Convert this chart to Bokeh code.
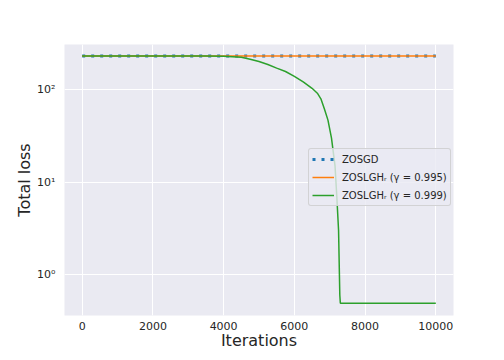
from bokeh.plotting import figure
from bokeh.embed import file_html
from bokeh.resources import INLINE
from bokeh.models import Range1d, FixedTicker, CustomJSTickFormatter, Legend, LegendItem

# ---- data ----
iters_flat = [0, 1000, 2000, 3000, 4000, 5000, 6000, 7000, 8000, 9000, 10000]
loss_zosgd = [233, 233, 233, 233, 233, 233, 233, 233, 233, 233, 233]
loss_995 = [233, 233, 233, 233, 233, 233, 233, 233, 233, 233, 233]

iters_999 = [0, 1000, 2000, 3000, 3500, 4000, 4250, 4500, 4750, 5000, 5250, 5500,
             5750, 6000, 6250, 6500, 6650, 6750, 6850, 6950, 7050, 7150, 7200,
             7250, 7285, 7300, 8000, 9000, 10000]
loss_999 = [233, 233, 233, 233, 232, 231, 229, 225, 215, 203, 188, 172,
            158, 140, 122, 104, 92, 80, 62, 47, 30, 15, 7,
            3, 0.6, 0.49, 0.49, 0.49, 0.49]

x_ticks = [0, 2000, 4000, 6000, 8000, 10000]
y_ticks = [1, 10, 100]

labels = ["ZOSGD", "ZOSLGHᵣ (γ = 0.995)", "ZOSLGHᵣ (γ = 0.999)"]
colors = ["#1f77b4", "#ff7f0e", "#2ca02c"]

FONT = "DejaVu Sans"
TXT = "#262626"

p = figure(width=496, height=352, output_backend="svg", toolbar_location=None,
           y_axis_type="log",
           x_range=Range1d(-500, 10500), y_range=Range1d(0.36, 310),
           min_border_left=64, min_border_top=44, min_border_right=43,
           min_border_bottom=37)

p.background_fill_color = "#EAEAF2"
p.border_fill_color = "white"
p.outline_line_color = None

r1 = p.line(iters_flat, loss_zosgd, line_color=colors[0], line_width=3, line_dash="3 6")
r2 = p.line(iters_flat, loss_995, line_color=colors[1], line_width=1.5)
r3 = p.line(iters_999, loss_999, line_color=colors[2], line_width=1.5)

p.xaxis.ticker = FixedTicker(ticks=x_ticks)
p.yaxis.ticker = FixedTicker(ticks=y_ticks)
p.yaxis.formatter = CustomJSTickFormatter(code="""
const e = Math.round(Math.log10(tick));
const sup = {"-2":"⁻²","-1":"⁻¹","0":"⁰","1":"¹","2":"²","3":"³"};
return "10" + sup[String(e)];
""")

for ax in [p.xaxis, p.yaxis]:
    ax.axis_line_color = None
    ax.major_tick_line_color = None
    ax.minor_tick_line_color = None
    ax.major_tick_out = 0
    ax.major_tick_in = 0
    ax.minor_tick_out = 0
    ax.minor_tick_in = 0
    ax.major_label_text_font = FONT
    ax.major_label_text_font_size = "11px"
    ax.major_label_text_color = TXT
    ax.axis_label_text_font = FONT
    ax.axis_label_text_font_size = "16px"
    ax.axis_label_text_font_style = "normal"
    ax.axis_label_text_color = TXT

p.xaxis.axis_label = "Iterations"
p.yaxis.axis_label = "Total loss"
p.xaxis.major_label_standoff = 6
p.yaxis.major_label_standoff = 9
p.xaxis.axis_label_standoff = -2
p.yaxis.axis_label_standoff = 0

p.grid.grid_line_color = "white"
p.grid.grid_line_width = 1
p.ygrid.minor_grid_line_color = None

legend = Legend(items=[LegendItem(label=labels[0], renderers=[r1]),
                       LegendItem(label=labels[1], renderers=[r2]),
                       LegendItem(label=labels[2], renderers=[r3])],
                location=(244, 109))
legend.label_text_font = FONT
legend.label_text_font_size = "10px"
legend.label_text_color = TXT
legend.background_fill_color = "#EAEAF2"
legend.background_fill_alpha = 0.8
legend.border_line_color = "#cccccc"
legend.border_line_alpha = 0.8
legend.border_radius = 3
legend.padding = 3
legend.margin = 0
legend.spacing = 4
legend.glyph_width = 22
legend.glyph_height = 14
legend.label_height = 14
legend.label_standoff = 8
p.add_layout(legend, "center")

open("out.html", "w").write(file_html(p, INLINE))
